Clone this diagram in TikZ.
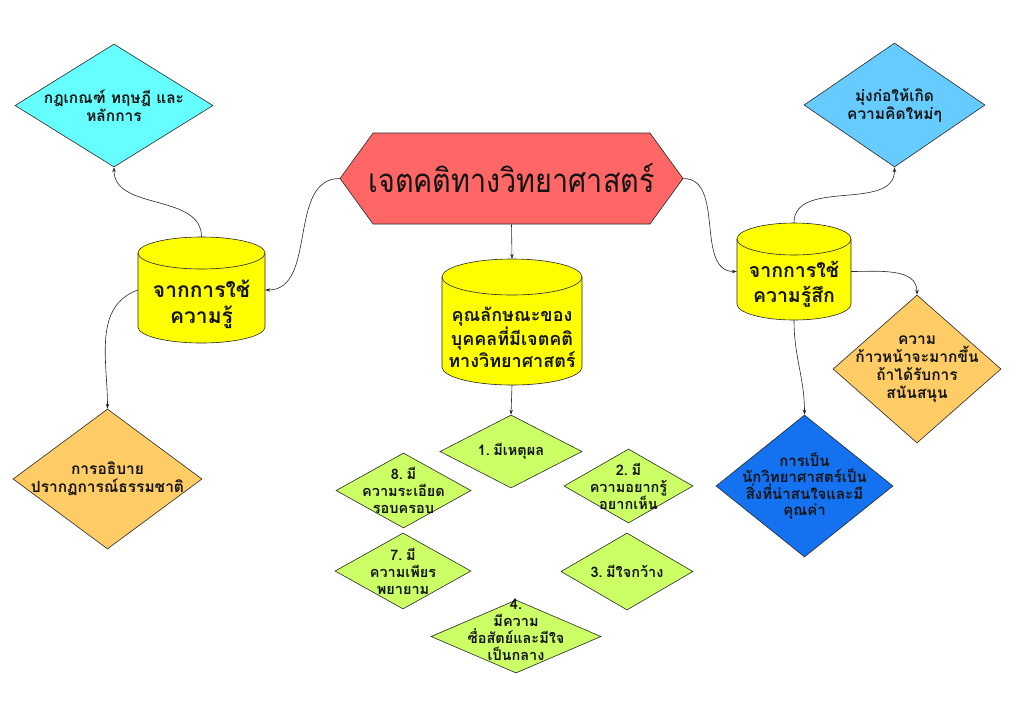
\documentclass[tikz,border=0pt]{standalone}
\usepackage{fontspec}
\newfontfamily\thaifont[Script=Thai]{Loma}
\newfontfamily\titlefont[Script=Thai,FakeStretch=0.87]{Loma}
\usetikzlibrary{shapes.geometric,shapes.symbols,arrows.meta}
\definecolor{hexred}{RGB}{255,102,102}
\definecolor{cylyellow}{RGB}{255,255,0}
\definecolor{cyanfill}{RGB}{102,255,255}
\definecolor{skyfill}{RGB}{102,204,255}
\definecolor{orangefill}{RGB}{255,204,102}
\definecolor{bluefill}{RGB}{20,114,240}
\definecolor{greenfill}{RGB}{204,255,102}
\definecolor{edge}{RGB}{40,40,40}
\definecolor{txt}{RGB}{20,20,20}
\newcommand\nsp{\hspace{3.5pt}}
\newcommand\mycyl[5]{% cx, top, bottom, halfwidth, ry
  \fill[cylyellow] (#1-#4,#2+#5) -- (#1-#4,#3-#5) arc[start angle=180,end angle=360,x radius=#4pt,y radius=#5pt] -- (#1+#4,#2+#5) arc[start angle=0,end angle=180,x radius=#4pt,y radius=#5pt] -- cycle;
  \draw[edge,line width=0.6pt] (#1-#4,#2+#5) -- (#1-#4,#3-#5) arc[start angle=180,end angle=360,x radius=#4pt,y radius=#5pt] -- (#1+#4,#2+#5);
  \draw[edge,line width=0.6pt] (#1,#2+#5) ellipse[x radius=#4pt,y radius=#5pt];
}
\begin{document}
\begin{tikzpicture}[x=1pt,y=-1pt,
  dia/.style={diamond,draw=edge,line width=0.6pt,inner sep=0pt,aspect=1.5},
  dlbl/.style={inner sep=0pt,align=center,text=txt,font=\thaifont\bfseries\fontsize{14.5}{17}\selectfont},
  clbl/.style={inner sep=0pt,align=center,text=txt},
  cylnode/.style={rectangle,inner sep=0pt,draw=none},
  conn/.style={draw=edge,line width=0.6pt,-{Stealth[length=5pt,width=3.5pt]}}]
\useasboundingbox[fill=white] (0,0) rectangle (1024,705);

% hexagon
\node[signal,signal to=west and east,signal pointer angle=108,fill=hexred,draw=edge,line width=0.6pt,
  inner sep=0pt,minimum width=343pt,minimum height=91pt,
  label={[clbl,font=\titlefont\fontsize{33}{40}\selectfont]center:เจตคติทางวิทยาศาสตร์}] (hex) at (511.5,178.5) {};

% cylinders
\mycyl{201.5}{237}{343}{63.5}{16}
\node[cylnode,minimum width=127pt,minimum height=106pt,
  label={[clbl,yshift=-14pt,font=\thaifont\bfseries\fontsize{21}{26}\selectfont]center:จากการใช้\\ความรู้}] (lc) at (201.5,290) {};
\mycyl{512}{259}{385}{70}{18}
\node[cylnode,minimum width=140pt,minimum height=126pt,
  label={[clbl,yshift=-15pt,font=\thaifont\bfseries\fontsize{18}{20}\selectfont]center:คุณลักษณะของ\\บุคคลที่มีเจตคติ\\ทางวิทยาศาสตร์}] (cc) at (512,322) {};
\mycyl{794}{223}{320}{57}{16}
\node[cylnode,minimum width=114pt,minimum height=97pt,
  label={[clbl,yshift=-13pt,font=\thaifont\bfseries\fontsize{19.5}{25}\selectfont]center:จากการใช้\\ความรู้สึก}] (rc) at (794,271.5) {};

% outer diamonds
\node[dia,fill=cyanfill,minimum width=198pt,minimum height=123pt,
  label={[dlbl,font=\thaifont\bfseries\fontsize{15.5}{18}\selectfont]center:กฎเกณฑ์ ทฤษฎี และ\\หลักการ}] (cy) at (114,105.5) {};
\node[dia,fill=orangefill,minimum width=189pt,minimum height=140pt,
  label={[dlbl,font=\thaifont\bfseries\fontsize{15.5}{18}\selectfont]center:การอธิบาย\\ปรากฏการณ์ธรรมชาติ}] (o1) at (107.5,479) {};
\node[dia,fill=skyfill,minimum width=181pt,minimum height=124pt,
  label={[dlbl,font=\thaifont\bfseries\fontsize{15.5}{18}\selectfont]center:มุ่งก่อให้เกิด\\ความคิดใหม่ๆ}] (sk) at (894.5,105) {};
\node[dia,fill=orangefill,minimum width=168pt,minimum height=148pt,
  label={[dlbl,font=\thaifont\bfseries\fontsize{15.5}{18}\selectfont]center:ความ\\ก้าวหน้าจะมากขึ้น\\ถ้าได้รับการ\\สนันสนุน}] (o2) at (917,369) {};
\node[dia,fill=bluefill,minimum width=177pt,minimum height=142pt,
  label={[dlbl,font=\thaifont\bfseries\fontsize{15}{16.5}\selectfont]center:การเป็น\\นักวิทยาศาสตร์เป็น\\สิ่งที่น่าสนใจและมี\\คุณค่า}] (db) at (804.5,486) {};

% green diamonds
\node[dia,fill=greenfill,minimum width=142pt,minimum height=73pt,
  label={[dlbl]center:1.\nsp มีเหตุผล}] (g1) at (511,451.5) {};
\node[dia,fill=greenfill,minimum width=129pt,minimum height=74pt,
  label={[dlbl]center:2.\nsp มี\\ความอยากรู้\\อยากเห็น}] (g2) at (628.5,486) {};
\node[dia,fill=greenfill,minimum width=132pt,minimum height=77pt,
  label={[dlbl]center:3.\nsp มีใจกว้าง}] (g3) at (627,571.5) {};
\node[dia,fill=greenfill,minimum width=170pt,minimum height=73pt,
  label={[dlbl,yshift=7pt]center:4.\\มีความ\\ซื่อสัตย์และมีใจ\\เป็นกลาง}] (g4) at (516,636.5) {};
\node[dia,fill=greenfill,minimum width=136pt,minimum height=76pt,
  label={[dlbl]center:7.\nsp มี\\ความเพียร\\พยายาม}] (g7) at (403,571) {};
\node[dia,fill=greenfill,minimum width=135pt,minimum height=75pt,
  label={[dlbl]center:8.\nsp มี\\ความระเอียด\\รอบครอบ}] (g8) at (403.5,490.5) {};

% connectors
\draw[conn] (hex.south) -- (cc.north);
\draw[conn] (cc.south) -- (g1.north);
\draw[conn] (hex.west) to[out=180,in=0] (lc.east);
\draw[conn] (hex.east) to[out=0,in=180] (rc.west);
\draw[conn] (lc.north) to[out=90,in=-90] (cy.south);
\draw[conn] (lc.west) to[out=200,in=90] (o1.north);
\draw[conn] (rc.north) to[out=90,in=-90] (sk.south);
\draw[conn] (rc.east) to[out=0,in=90] (o2.north);
\draw[conn] (rc.south) to[out=-90,in=90] (db.north);
\end{tikzpicture}
\end{document}
